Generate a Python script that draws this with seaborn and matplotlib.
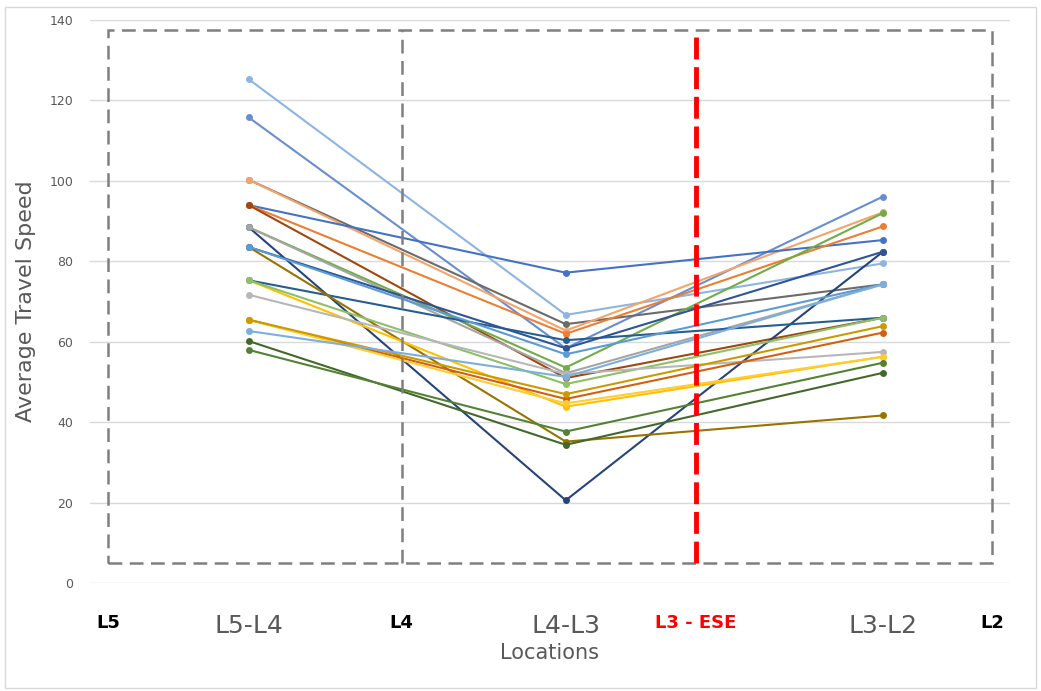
import pandas as pd
import seaborn as sns
import matplotlib.pyplot as plt
from matplotlib.patches import Rectangle

# speeds at the three segments (L5-L4, L4-L3, L3-L2), one list per run
segments = ['L5-L4', 'L4-L3', 'L3-L2']
s01 = [125.3, 66.7, 79.5]
s02 = [115.8, 58.4, 96.1]
s03 = [100.3, 64.4, 74.3]
s04 = [100.3, 62.8, 92.2]
s05 = [94.0, 77.2, 85.3]
s06 = [94.0, 62.0, 88.7]
s07 = [94.0, 51.0, 66.0]
s08 = [88.5, 53.6, 92.0]
s09 = [88.5, 20.6, 82.4]
s10 = [88.5, 52.2, 74.3]
s11 = [75.3, 60.4, 66.0]
s12 = [83.6, 35.2, 41.7]
s13 = [83.6, 58.4, 82.4]
s14 = [83.6, 56.9, 74.3]
s15 = [75.3, 43.9, 56.3]
s16 = [75.3, 49.5, 66.0]
s17 = [71.7, 52.0, 57.5]
s18 = [65.5, 45.8, 62.3]
s19 = [65.5, 44.7, 56.3]
s20 = [65.5, 47.0, 63.9]
s21 = [62.7, 51.3, 74.3]
s22 = [60.2, 34.4, 52.3]
s23 = [58.0, 37.7, 54.8]
series = [s01, s02, s03, s04, s05, s06, s07, s08, s09, s10, s11, s12,
          s13, s14, s15, s16, s17, s18, s19, s20, s21, s22, s23]
colors = ['#8DB4E2', '#698ED0', '#6B6B6B', '#F4A46A', '#4472C4', '#ED7D31',
          '#9E480E', '#70AD47', '#264478', '#A5A5A5', '#255E91', '#997300',
          '#2F5597', '#5B9BD5', '#FFC000', '#8CC168', '#B7B7B7', '#D26012',
          '#FFCD33', '#CC9A00', '#7CAFDD', '#43682B', '#548235']

tick_names = ['L5', 'L5-L4', 'L4', 'L4-L3', 'L3 - ESE', 'L3-L2', 'L2']

rows = []
for i, vals in enumerate(series):
    for j, v in enumerate(vals):
        rows.append({'run': 'r%02d' % i, 'pos': j + 1, 'speed': v})
df = pd.DataFrame(rows)

sns.set_style('white')
fig = plt.figure(figsize=(10.41, 6.91), dpi=100)
ax = fig.add_axes([0.0865, 0.156, 0.8835, 0.815])

sns.lineplot(data=df, x='pos', y='speed', hue='run', palette=colors,
             marker='o', markersize=5, markeredgewidth=0, linewidth=1.5,
             legend=False, ax=ax)

ax.set_xlim(0.50, 3.40)
ax.set_ylim(0, 140)
ax.set_yticks(range(0, 141, 20))
ax.yaxis.grid(True, color='#D9D9D9', linewidth=1)
ax.set_axisbelow(True)
for sp in ax.spines.values():
    sp.set_visible(False)
ax.tick_params(axis='y', colors='#595959', labelsize=9, length=0, pad=12)

# dashed boxes and the ESE marker
xl5, xl4, xese, xl2 = 0.558, 1.483, 2.41, 3.344
ax.add_patch(Rectangle((xl5, 5), xl2 - xl5, 132.5, fill=False,
                       edgecolor='#7F7F7F', linestyle=(0, (5.5, 3)), linewidth=1.8))
ax.plot([xl4, xl4], [5, 137.5], color='#7F7F7F', linestyle=(0, (5.5, 3)), linewidth=1.8)
ax.plot([xese, xese], [5, 137.5], color='#FF0000', linestyle=(0, (4.5, 1.6)), linewidth=3.5)

ax.set_xticks([xl5, 1, xl4, 2, xese, 3, xl2])
ax.set_xticklabels(tick_names)
ax.tick_params(axis='x', length=0, pad=22)
for lab in ax.get_xticklabels():
    t = lab.get_text()
    if t in segments:
        lab.set_fontsize(18)
        lab.set_color('#595959')
    elif t == 'L3 - ESE':
        lab.set_fontsize(13)
        lab.set_fontweight('bold')
        lab.set_color('#FF0000')
    else:
        lab.set_fontsize(13)
        lab.set_fontweight('bold')
        lab.set_color('black')

ax.set_xlabel('Locations', fontsize=15, color='#595959', labelpad=4)
ax.set_ylabel('Average Travel Speed', fontsize=16, color='#595959', labelpad=10)

fig.add_artist(Rectangle((0.005, 0.005), 0.99, 0.985, transform=fig.transFigure,
                         fill=False, edgecolor='#D9D9D9', linewidth=1))

fig.savefig('out.png', dpi=100)
